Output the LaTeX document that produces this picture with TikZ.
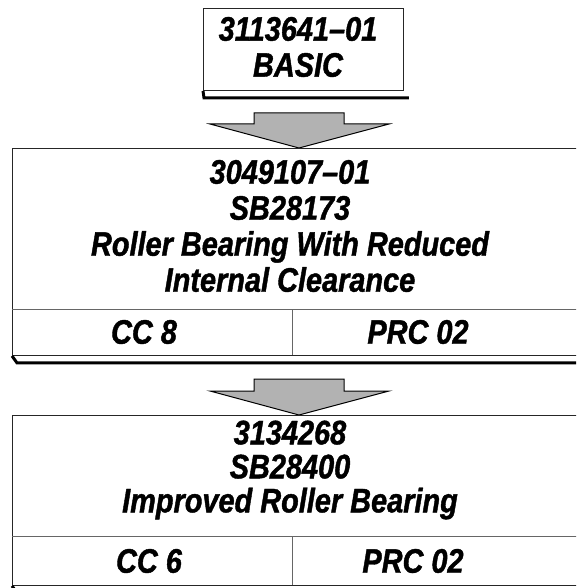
\documentclass[tikz,border=0pt]{standalone}
\usepackage{fontspec}
\setmainfont{Liberation Sans}
\newfontfamily\narrowsans[Ligatures=TeX, FakeStretch=0.85, BoldItalicFeatures={FakeBold=1.2}]{Liberation Sans}
\usetikzlibrary{calc}
\begin{document}
\begin{tikzpicture}[x=1pt,y=-1pt]

% --- Styles ---
\tikzset{
    panel/.style={draw=black!85, line width=0.9pt, fill=white, anchor=north west},
    divider/.style={draw=black!60, line width=0.8pt},
    shadowline/.style={draw=black, line width=3pt},
    blockarrow/.style={fill=black!30, draw=black, line width=1pt, line join=miter},
    title/.style={font=\narrowsans\fontsize{34}{36}\selectfont\bfseries\itshape, align=center, inner sep=0pt}
}

    \clip (0,0) rectangle (576,588);

    % Basis
    \node[panel, minimum width=200pt, minimum height=82pt] (basic) at (203,8) {};
    \draw[shadowline] (basic.south west) -- ++(1,7) -- ($(basic.south east)+(5,7)$);
    \node[title] (basictext) at (298,47) {3113641--01\\BASIC};

    % Pijl 1
    \coordinate (tip1) at (299,148);
    \draw[blockarrow] (tip1) -- ++(-89,-24) -- ++(44,0) -- ++(0,-11) -- ++(90,0)
        -- ++(0,11) -- ++(45,0) -- cycle;

    % Wijziging SB28173
    \node[panel, minimum width=600pt, minimum height=207pt] (first) at (12,148) {};
    \draw[shadowline] (first.south west) -- ++(5,7) -- ($(first.south east)+(5,7)$);
    \draw[divider] (12,309) -- (612,309);
    \draw[divider] (292,309) -- (292,355);
    \node[title] (firsttext) at (290,226) {3049107--01\\SB28173\\Roller Bearing With Reduced\\Internal Clearance};
    \node[title] (firstcc) at (144,332) {CC 8};
    \node[title] (firstprc) at (418,332) {PRC 02};

    % Pijl 2
    \coordinate (tip2) at (299,415);
    \draw[blockarrow] (tip2) -- ++(-89,-24) -- ++(44,0) -- ++(0,-12) -- ++(90,0)
        -- ++(0,12) -- ++(45,0) -- cycle;

    % Wijziging SB28400
    \node[panel, minimum width=600pt, minimum height=170pt] (second) at (12,415) {};
    \draw[shadowline] (second.south west) -- ++(5,7) -- ($(second.south east)+(5,7)$);
    \draw[divider] (12,536) -- (612,536);
    \draw[divider] (292,536) -- (292,585);
    \node[title, font=\narrowsans\fontsize{34}{34}\selectfont\bfseries\itshape] (secondtext) at (290,470) {3134268\\SB28400\\Improved Roller Bearing};
    \node[title] (secondcc) at (149,561) {CC 6};
    \node[title] (secondprc) at (413,561) {PRC 02};

\end{tikzpicture}
\end{document}
